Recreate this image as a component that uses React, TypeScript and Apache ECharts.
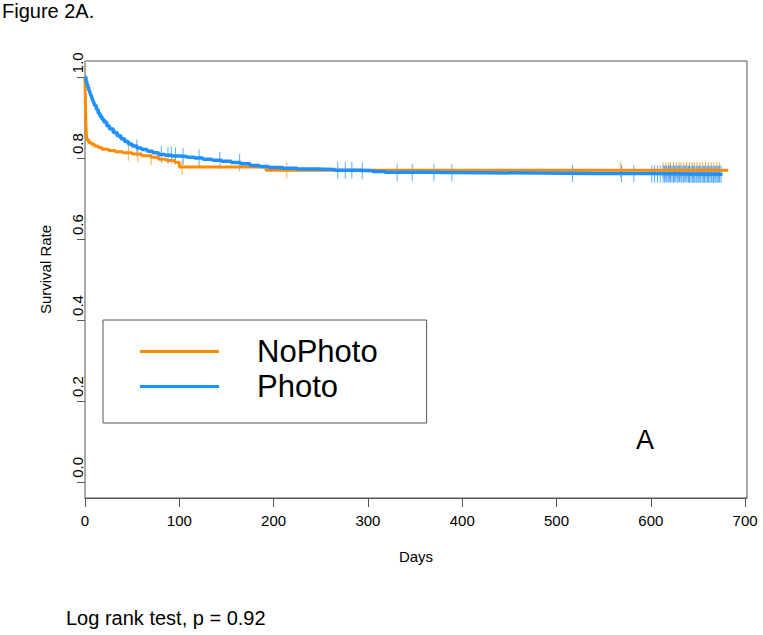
import React, { useEffect, useRef } from "react";
import * as echarts from "echarts";

// Kaplan-Meier step curves (day, survival)
const noPhotoDays = [0, 0.5, 1, 1.5, 2, 4, 7, 10, 14, 18, 25, 32, 40, 50, 60, 70, 78, 86, 95, 100, 192, 682];
const noPhotoSurv = [1.0, 0.93, 0.88, 0.855, 0.845, 0.838, 0.834, 0.83, 0.826, 0.822, 0.819, 0.816, 0.813, 0.81, 0.806, 0.802, 0.797, 0.794, 0.79, 0.778, 0.77, 0.77];

const photoDays = [0, 1, 2, 3, 4, 5, 6, 7, 8, 9, 10, 12, 14, 16, 18, 20, 23, 26, 30, 34, 38, 42, 46, 50, 55, 60, 66, 72, 78, 85, 92, 100, 108, 116, 125, 135, 145, 155, 165, 175, 185, 195, 210, 225, 245, 265, 290, 305, 318, 360, 420, 480, 540, 600, 640, 676];
const photoSurv = [1.0, 0.99, 0.982, 0.975, 0.968, 0.961, 0.954, 0.948, 0.942, 0.936, 0.93, 0.92, 0.911, 0.903, 0.896, 0.889, 0.88, 0.872, 0.863, 0.855, 0.848, 0.841, 0.835, 0.83, 0.825, 0.821, 0.817, 0.813, 0.809, 0.807, 0.805, 0.804, 0.802, 0.8, 0.797, 0.795, 0.792, 0.789, 0.786, 0.782, 0.779, 0.777, 0.775, 0.773, 0.772, 0.77, 0.769, 0.767, 0.765, 0.764, 0.763, 0.762, 0.762, 0.761, 0.76, 0.76];

// censoring times (days)
const noPhotoCensored = [46, 56, 70, 103, 214, 568, 613, 616, 619, 621, 624, 627, 630, 632, 635, 638, 641, 644, 646, 649, 652, 655, 658, 661, 664, 667, 670, 673];
const photoCensored = [55, 81, 88, 91.5, 96, 104, 121, 143, 164, 268, 276, 283, 294, 331, 347, 370, 389, 517, 569, 582, 601, 604, 607, 610,
  613, 614.5, 616, 617, 618.5, 620, 621, 622.5, 624, 625, 626.5, 628, 629, 630.5, 632, 633, 634.5, 636, 637, 638.5, 640, 641, 642.5,
  644, 645, 646.5, 648, 649, 650.5, 652, 653, 654.5, 656, 657, 658.5, 660, 661, 662.5, 664, 665, 666.5, 668, 669, 670.5, 672, 673, 674.5];

const xTicks = [0, 100, 200, 300, 400, 500, 600, 700];
const yTicks = [0, 0.2, 0.4, 0.6, 0.8, 1.0];

const ORANGE = "#FF8C00";
const BLUE = "#1E90FF";
const FONT = "Liberation Sans, Arial, sans-serif";

function survAt(days: number[], surv: number[], t: number) {
  let s = surv[0];
  for (let i = 0; i < days.length; i++) {
    if (days[i] <= t) s = surv[i];
  }
  return s;
}

export default function App() {
  const ref = useRef<HTMLDivElement>(null);
  useEffect(() => {
    const chart = echarts.init(ref.current!, undefined, { renderer: "svg" });
    const option: any = {
      animation: false,
      backgroundColor: "#fff",
      textStyle: { fontFamily: FONT },
      title: [
        { text: "Figure 2A.", left: 2, top: 1, padding: 0, textStyle: { fontSize: 20, fontWeight: "normal", color: "#000", fontFamily: FONT } },
        { text: "Log rank test, p = 0.92", left: 66, top: 608, padding: 0, textStyle: { fontSize: 20, fontWeight: "normal", color: "#000", fontFamily: FONT } },
      ],
      grid: { left: 85, right: 16, top: 61, bottom: 137, show: true, borderColor: "#555", borderWidth: 1, containLabel: false },
      legend: {
        data: ["NoPhoto", "Photo"],
        orient: "vertical",
        left: 103,
        top: 320,
        padding: [16, 49, 21, 37],
        itemGap: 4,
        itemWidth: 79,
        itemHeight: 3,
        icon: "rect",
        selectedMode: false,
        borderColor: "#555",
        borderWidth: 1,
        textStyle: { fontSize: 31, lineHeight: 31, color: "#000", fontFamily: FONT, padding: [0, 0, 0, 33] },
      },
      xAxis: {
        type: "value",
        min: 0,
        max: 702,
        name: "Days",
        nameLocation: "middle",
        nameGap: 51,
        nameTextStyle: { fontSize: 15, color: "#000", fontFamily: FONT },
        axisLine: { show: true, onZero: false, lineStyle: { color: "#555", width: 1 } },
        axisTick: { show: true, length: 9, customValues: xTicks, lineStyle: { color: "#555" } },
        axisLabel: { customValues: xTicks, margin: 15, fontSize: 15, color: "#000", fontFamily: FONT },
        splitLine: { show: false },
      },
      yAxis: {
        type: "value",
        min: -0.04,
        max: 1.04,
        name: "Survival Rate",
        nameLocation: "middle",
        nameGap: 32,
        nameRotate: 90,
        nameTextStyle: { fontSize: 15, color: "#000", fontFamily: FONT, padding: [0, 0, 0, 20] },
        axisLine: { show: false, onZero: false },
        axisTick: { show: true, length: 8, customValues: yTicks, lineStyle: { color: "#555" } },
        axisLabel: {
          customValues: yTicks,
          rotate: 90,
          align: "left",
          verticalAlign: "bottom",
          margin: 0,
          padding: [0, 0, 0, 4],
          fontSize: 15,
          color: "#000",
          fontFamily: FONT,
          formatter: (v: number) => v.toFixed(1),
        },
        splitLine: { show: false },
      },
      series: [
        {
          name: "NoPhoto",
          type: "line",
          step: "end",
          showSymbol: false,
          itemStyle: { color: ORANGE },
          lineStyle: { color: ORANGE, width: 3 },
          data: noPhotoDays.map((d, i) => [d, noPhotoSurv[i]]),
        },
        {
          name: "NoPhoto censored",
          type: "scatter",
          symbol: "rect",
          symbolSize: [1, 16],
          itemStyle: { color: ORANGE, opacity: 0.75 },
          data: noPhotoCensored.map((t) => [t, survAt(noPhotoDays, noPhotoSurv, t)]),
        },
        {
          name: "Photo",
          type: "line",
          step: "end",
          showSymbol: false,
          itemStyle: { color: BLUE },
          lineStyle: { color: BLUE, width: 3.5 },
          data: photoDays.map((d, i) => [d, photoSurv[i]]),
        },
        {
          name: "Photo censored",
          type: "scatter",
          symbol: "rect",
          symbolSize: [1, 17],
          itemStyle: { color: BLUE, opacity: 0.75 },
          data: photoCensored.map((t) => [t, survAt(photoDays, photoSurv, t)]),
        },
      ],
      graphic: [
        {
          type: "text",
          x: 645,
          y: 440,
          style: { text: "A", fontSize: 27, fill: "#000", fontFamily: FONT, align: "center", verticalAlign: "middle" },
        },
      ],
    };
    chart.setOption(option);
    return () => chart.dispose();
  }, []);
  return <div ref={ref} style={{ position: "fixed", left: 0, top: 0, width: 763, height: 635 }} />;
}
